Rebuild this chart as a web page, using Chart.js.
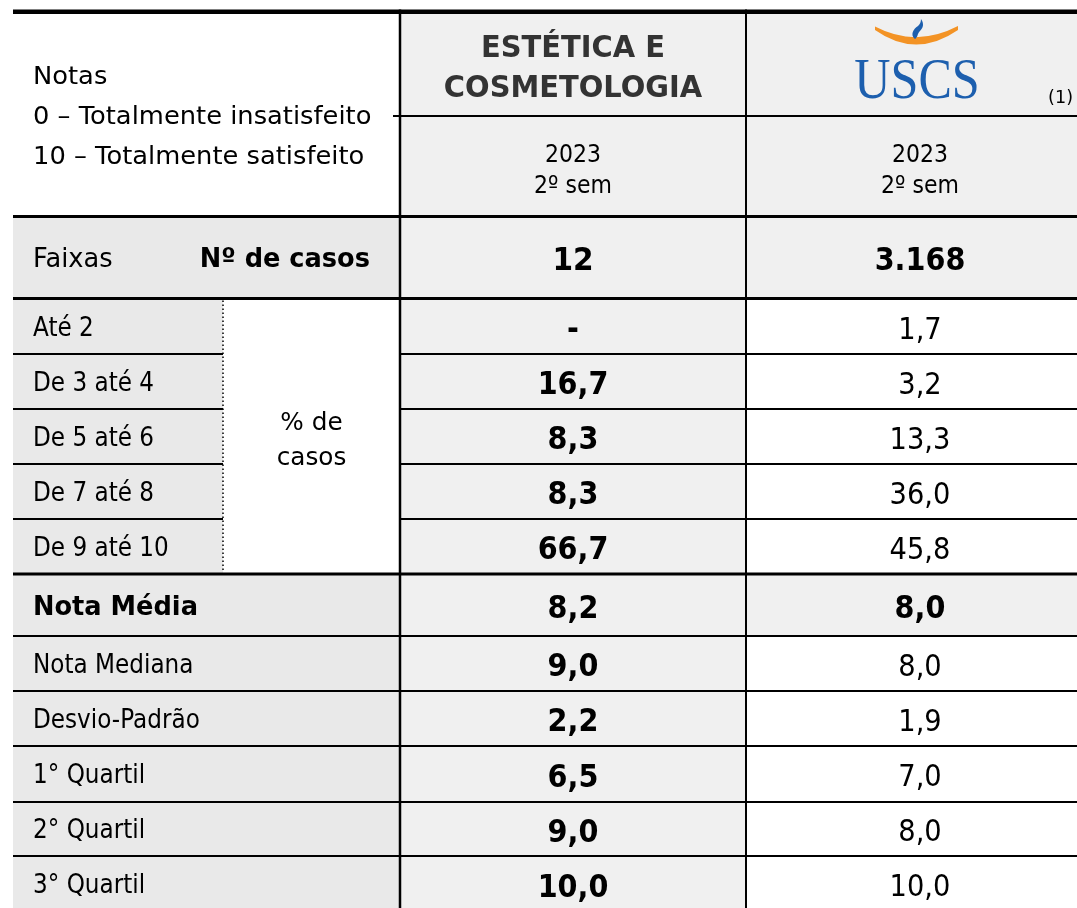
<!DOCTYPE html>
<html lang="pt-BR">
<head>
<meta charset="utf-8">
<title>Estética e Cosmetologia - Notas</title>
<script src="https://cdn.jsdelivr.net/npm/chart.js@4.4.1/dist/chart.umd.min.js"></script>
<style>
  html, body { margin: 0; padding: 0; background: #fff; }
  #wrap { width: 1077px; height: 908px; }
</style>
</head>
<body>
<div id="wrap"><canvas id="tabela" width="1077" height="908"></canvas></div>
<script>
// Dados da tabela
const cursoNome = ['ESTÉTICA E', 'COSMETOLOGIA'];
const periodo = ['2023', '2º sem'];
const legendaNotas = ['Notas', '0 – Totalmente insatisfeito', '10 – Totalmente satisfeito'];
const faixas = ['Até 2', 'De 3 até 4', 'De 5 até 6', 'De 7 até 8', 'De 9 até 10'];
const casos = [12, 3168];
const pctCurso = [null, 16.7, 8.3, 8.3, 66.7];
const pctUscs = [1.7, 3.2, 13.3, 36.0, 45.8];
const estatLabels = ['Nota Média', 'Nota Mediana', 'Desvio-Padrão', '1° Quartil', '2° Quartil', '3° Quartil'];
const estatCurso = [8.2, 9.0, 2.2, 6.5, 9.0, 10.0];
const estatUscs = [8.0, 8.0, 1.9, 7.0, 8.0, 10.0];

// Geometria (em unidades das escalas); a última coluna continua além da borda
const colX = [13, 223, 400, 746, 1094];
const yTop = 11.7, yHeadMid = 116, yHeadBot = 216.5, yFaixasBot = 298.5;
const pctY = [298.5, 354, 409, 464, 519, 574];
const estY = [574, 636, 691, 746, 802, 856, 912];

const FONT = '"DejaVu Sans", Verdana, sans-serif';
const fmt1 = v => v == null ? '-' : v.toFixed(1).replace('.', ',');
const fmtInt = v => String(v).replace(/\B(?=(\d{3})+(?!\d))/g, '.');

// estilos de texto: tamanho e compressão horizontal (imitando Tahoma)
const stLabel = { size: 26, sx: 0.89 };
const stLabelBold = { size: 27, sx: 0.95, bold: true };
const stNum = { size: 30, sx: 0.91 };
const stNumBold = { size: 31.5, sx: 0.91, bold: true };
const stPeriodo = { size: 25, sx: 0.88 };

const tabelaPlugin = {
    id: 'tabela',
    beforeDatasetsDraw(chart) {
        const ctx = chart.ctx;
        const sx = chart.scales.x, sy = chart.scales.y;
        const X = v => sx.getPixelForValue(v);
        const Y = v => sy.getPixelForValue(v);

        function rect(x0, y0, x1, y1, color) {
            ctx.fillStyle = color;
            ctx.fillRect(X(x0), Y(y0), X(x1) - X(x0), Y(y1) - Y(y0));
        }
        function hline(y, x0, x1, w) {
            ctx.beginPath();
            ctx.lineWidth = w;
            ctx.strokeStyle = '#000';
            ctx.moveTo(X(x0), Y(y));
            ctx.lineTo(X(x1), Y(y));
            ctx.stroke();
        }
        function vline(x, y0, y1, w) {
            ctx.beginPath();
            ctx.lineWidth = w;
            ctx.strokeStyle = '#000';
            ctx.moveTo(X(x), Y(y0));
            ctx.lineTo(X(x), Y(y1));
            ctx.stroke();
        }
        function text(t, x, y, st, opts = {}) {
            ctx.save();
            ctx.font = (st.bold ? 'bold ' : '') + st.size + 'px ' + (st.family || FONT);
            ctx.fillStyle = opts.color || '#000';
            ctx.textAlign = opts.align || 'left';
            ctx.textBaseline = 'alphabetic';
            ctx.translate(X(x), Y(y));
            ctx.scale(st.sx || 1, 1);
            ctx.fillText(t, 0, 0);
            ctx.restore();
        }
        // texto centrado verticalmente na linha
        function cellText(t, x, y0, y1, st, opts, extra = 0) {
            const base = (y0 + y1) / 2 + st.size * 0.3645 + extra;
            text(t, x, base, st, opts);
        }

        const gData = '#f0f0f0', gLabel = '#e9e9e9';
        const c2 = (colX[2] + colX[3]) / 2, c3 = (colX[3] + colX[4]) / 2;
        const center = { align: 'center' };

        // fundos
        rect(colX[2], yTop, colX[3], 908, gData);
        rect(colX[3], yTop, colX[4], yHeadBot, gData);
        rect(colX[0], yHeadBot, colX[2], yFaixasBot, gLabel);
        rect(colX[3], yHeadBot, colX[4], yFaixasBot, gData);
        rect(colX[0], pctY[0], colX[1], pctY[5], gLabel);
        rect(colX[0], estY[0], colX[2], 908, gLabel);
        rect(colX[3], estY[0], colX[4], estY[1], gData);

        // linhas
        vline(colX[2], 9.5, 908, 2.5);
        vline(colX[3], 9.5, 908, 2);
        hline(yTop, colX[0], colX[4], 4.6);
        hline(yHeadMid, 393, colX[4], 2);
        hline(yHeadBot, colX[0], colX[4], 3);
        hline(yFaixasBot, colX[0], colX[4], 3);
        for (let i = 1; i < pctY.length - 1; i++) {
            hline(pctY[i], colX[0], colX[1], 2);
            hline(pctY[i], colX[2], colX[4], 2);
        }
        hline(estY[0], colX[0], colX[4], 3);
        for (let i = 1; i < estY.length - 1; i++) hline(estY[i], colX[0], colX[4], 2);
        ctx.save();
        ctx.setLineDash([1.5, 2.5]);
        vline(colX[1], pctY[0] + 2, pctY[5] - 2, 1.5);
        ctx.restore();

        // cabeçalho esquerdo
        const notasBase = [84, 124, 164];
        legendaNotas.forEach((t, i) => text(t, 33, notasBase[i], { size: 25.5, sx: 1.01 }));

        // cabeçalho do curso
        const stCurso = { size: 29.5, sx: 0.98, bold: true };
        text(cursoNome[0], c2, 57, stCurso, { align: 'center', color: '#333' });
        text(cursoNome[1], c2, 97, stCurso, { align: 'center', color: '#333' });
        [c2, c3].forEach(cx => {
            text(periodo[0], cx, 162, stPeriodo, center);
            text(periodo[1], cx, 193, stPeriodo, center);
        });

        // logotipo USCS
        ctx.save();
        ctx.fillStyle = '#f39325';
        ctx.beginPath();
        ctx.moveTo(X(875), Y(30));
        ctx.quadraticCurveTo(X(916), Y(59), X(958), Y(30));
        ctx.lineTo(X(958), Y(26));
        ctx.quadraticCurveTo(X(916), Y(48), X(875), Y(26.5));
        ctx.closePath();
        ctx.fill();
        ctx.fillStyle = '#1d5fae';
        ctx.beginPath();
        ctx.moveTo(X(915), Y(39));
        ctx.bezierCurveTo(X(910), Y(35), X(913), Y(29), X(918), Y(26));
        ctx.bezierCurveTo(X(920), Y(24), X(921), Y(22), X(921), Y(19));
        ctx.bezierCurveTo(X(924.5), Y(24), X(923), Y(28), X(920), Y(31));
        ctx.bezierCurveTo(X(917), Y(34), X(918), Y(37), X(915), Y(39));
        ctx.fill();
        ctx.restore();
        text('USCS', 917, 98, { size: 57, sx: 0.88, family: '"Liberation Serif", "Times New Roman", serif' },
             { align: 'center', color: '#1d5fae' });
        text('(1)', 1073, 103, { size: 18.5, sx: 0.95 }, { align: 'right' });

        // linha Faixas / Nº de casos
        cellText('Faixas', 33, yHeadBot, yFaixasBot, { size: 26.5, sx: 0.97 });
        cellText('Nº de casos', 370, yHeadBot, yFaixasBot, stLabelBold, { align: 'right' });
        cellText(fmtInt(casos[0]), c2, yHeadBot, yFaixasBot, { size: 31.5, sx: 0.94, bold: true }, center, 1);
        cellText(fmtInt(casos[1]), c3, yHeadBot, yFaixasBot, stNumBold, center, 1);

        // faixas de notas (% de casos)
        faixas.forEach((f, i) => {
            const y0 = pctY[i], y1 = pctY[i + 1];
            cellText(f, 33, y0, y1, stLabel);
            cellText(fmt1(pctCurso[i]), c2, y0, y1, stNumBold, center, 1.5);
            cellText(fmt1(pctUscs[i]), c3, y0, y1, stNum, center, 1.5);
        });
        const cPct = (colX[1] + colX[2]) / 2;
        text('% de', cPct, 430, { size: 25.5, sx: 0.97 }, center);
        text('casos', cPct, 465, { size: 25.5, sx: 0.97 }, center);

        // estatísticas
        estatLabels.forEach((l, i) => {
            const y0 = estY[i], y1 = estY[i + 1];
            const destaque = i === 0;
            cellText(l, 33, y0, y1, destaque ? stLabelBold : stLabel);
            cellText(fmt1(estatCurso[i]), c2, y0, y1, stNumBold, center, 1.5);
            cellText(fmt1(estatUscs[i]), c3, y0, y1, destaque ? stNumBold : stNum, center, 1.5);
        });
    }
};

document.addEventListener('DOMContentLoaded', function() {
    const ctx = document.getElementById('tabela').getContext('2d');
    new Chart(ctx, {
        type: 'scatter',
        data: { datasets: [{ data: [] }] },
        options: {
            responsive: false,
            animation: false,
            devicePixelRatio: 1,
            layout: { padding: 0 },
            plugins: { legend: { display: false }, tooltip: { enabled: false } },
            scales: {
                x: { type: 'linear', min: 0, max: 1077, display: false },
                y: { type: 'linear', min: 0, max: 908, reverse: true, display: false }
            }
        },
        plugins: [tabelaPlugin]
    });
});
</script>
</body>
</html>
